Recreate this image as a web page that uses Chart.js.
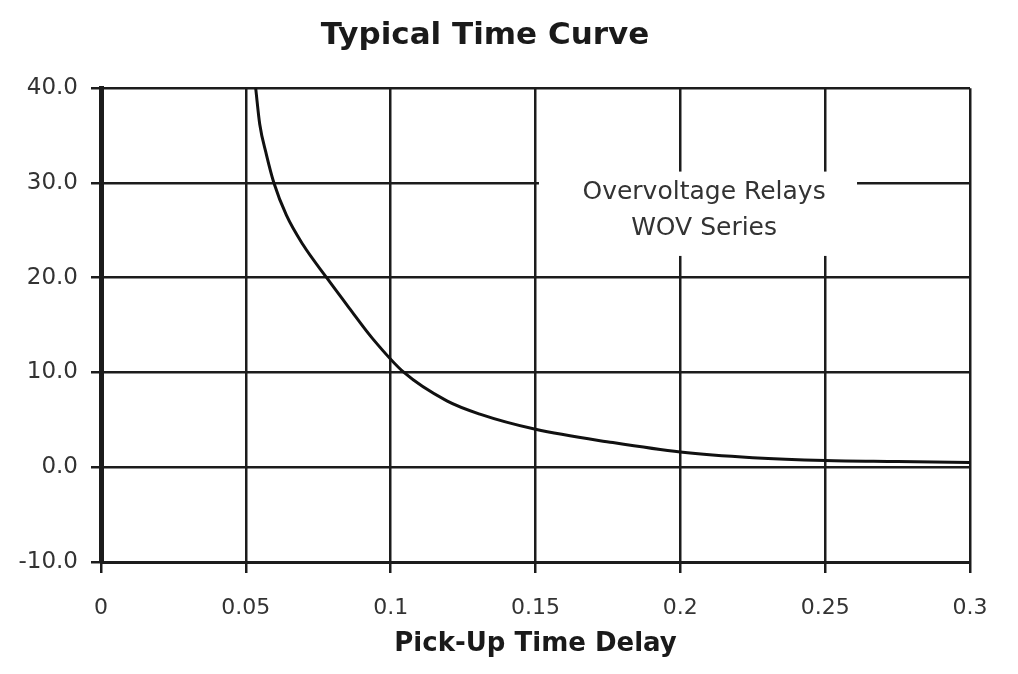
<!doctype html>
<html lang="en">
  <head>
    <title>Typical Time Curve</title>
    <script src="https://cdn.jsdelivr.net/npm/chart.js"></script>
    <style>
      html, body { margin: 0; padding: 0; background: #fff; }
      #timeCurve { display: block; }
    </style>
  </head>
  <body>
    <canvas id="timeCurve" width="1018" height="674"></canvas>

    <script>
      // values
      const delayX = [0.0534, 0.0548, 0.0571, 0.0597, 0.064, 0.0697, 0.0779, 0.0857, 0.0937, 0.1046, 0.1194, 0.1308, 0.15, 0.1767, 0.2, 0.225, 0.25, 0.275, 0.3];
      const timeY  = [40.0, 36.2, 33.0, 30.0, 26.6, 23.5, 20.0, 16.8, 13.6, 10.0, 7.0, 5.6, 4.0, 2.6, 1.6, 1.0, 0.7, 0.6, 0.5];

      const xTicks = [0, 0.05, 0.1, 0.15, 0.2, 0.25, 0.3];
      const yTicks = [-10, 0, 10, 20, 30, 40];
      const noteLines = ['Overvoltage Relays', 'WOV Series'];

      const gridColor = '#1c1c1c';
      const textColor = '#333';
      const fontFamily = '"DejaVu Sans", Verdana, sans-serif';

      // white note box sitting on top of the grid
      const notePlugin = {
        id: 'note',
        beforeDatasetsDraw(chart) {
          const { ctx, scales: { x, y } } = chart;
          const left = x.getPixelForValue(0.1512);
          const right = x.getPixelForValue(0.261);
          const top = y.getPixelForValue(31.2);
          const bottom = y.getPixelForValue(22.3);
          ctx.save();
          ctx.fillStyle = '#fff';
          ctx.fillRect(left, top, right - left, bottom - top);
          ctx.fillStyle = textColor;
          ctx.font = '25px ' + fontFamily;
          ctx.textAlign = 'center';
          ctx.textBaseline = 'middle';
          const cx = x.getPixelForValue(0.2082);
          ctx.fillText(noteLines[0], cx, y.getPixelForValue(29.0));
          ctx.fillText(noteLines[1], cx, y.getPixelForValue(25.2));
          ctx.restore();
        }
      };

      const ctx = document.getElementById('timeCurve').getContext('2d');
      const chart = new Chart(ctx, {
        type: 'scatter',
        data: {
          datasets: [{
            label: 'Typical Time Curve',
            data: delayX.map((d, i) => ({ x: d, y: timeY[i] })),
            showLine: true,
            borderColor: '#111',
            borderWidth: 3,
            pointRadius: 0,
            cubicInterpolationMode: 'monotone',
            fill: false
          }]
        },
        options: {
          responsive: false,
          animation: false,
          layout: { padding: { left: 0, right: 48, top: 0, bottom: 0 } },
          plugins: {
            legend: { display: false },
            tooltip: { enabled: false },
            title: {
              display: true,
              text: 'Typical Time Curve',
              color: '#1a1a1a',
              font: { family: fontFamily, size: 31, weight: 'bold' },
              padding: { top: 17, bottom: 34 }
            }
          },
          scales: {
            x: {
              type: 'linear',
              min: 0,
              max: 0.3,
              afterBuildTicks: s => { s.ticks = xTicks.map(v => ({ value: v })); },
              afterFit: s => { s.height = 112; },
              grid: { color: gridColor, lineWidth: 2.5, tickLength: 11, tickColor: gridColor },
              border: { color: gridColor, width: 3 },
              ticks: {
                color: textColor,
                padding: 22,
                font: { family: fontFamily, size: 22 },
                callback: v => String(Number(v.toFixed(2)))
              },
              title: {
                display: true,
                text: 'Pick-Up Time Delay',
                color: '#1a1a1a',
                font: { family: fontFamily, size: 26, weight: 'bold' },
                padding: { top: 0, bottom: 14 }
              }
            },
            y: {
              min: -10,
              max: 40,
              afterBuildTicks: s => { s.ticks = yTicks.map(v => ({ value: v })); },
              afterFit: s => { s.width = 101; },
              grid: { color: gridColor, lineWidth: 2.5, tickLength: 10, tickColor: gridColor },
              border: { color: gridColor, width: 5 },
              ticks: {
                color: textColor,
                padding: 13,
                font: { family: fontFamily, size: 23 },
                callback: v => v.toFixed(1)
              }
            }
          }
        },
        plugins: [notePlugin]
      });
    </script>
  </body>
</html>
